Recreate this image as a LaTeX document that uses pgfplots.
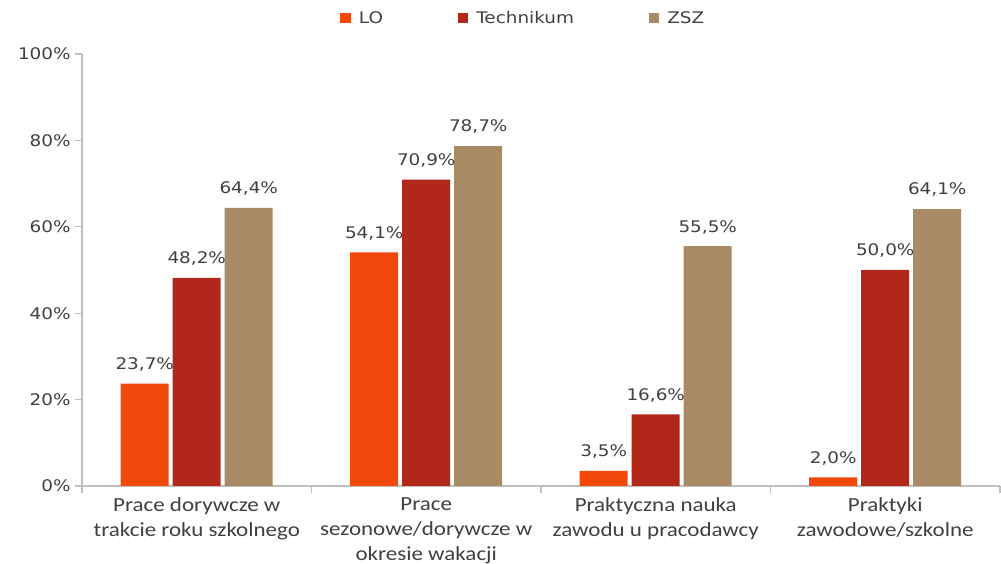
\documentclass[border=0pt]{standalone}
\usepackage{pgfplots}
\pgfplotsset{compat=1.18}
\usepackage{fontspec}
\setmainfont{DejaVu Sans}
\newfontfamily\numfont[FakeStretch=1.15]{DejaVu Sans}
\newfontfamily\catfont[FakeStretch=1.15]{Carlito}
\definecolor{cLO}{HTML}{F2480C}
\definecolor{cTech}{HTML}{B1281B}
\definecolor{cZSZ}{HTML}{A88B64}
\definecolor{axgray}{HTML}{BFBFBF}
\definecolor{txt}{HTML}{404040}
\pgfplotsset{
  sqlegend/.style={legend image code/.code={\fill[##1] (0pt,-4pt) rectangle (8pt,4pt); \path (0pt,0pt) -- (12pt,0pt);}}
}
\begin{document}
\begin{tikzpicture}
\begin{axis}[
  scale only axis,
  width=688.5pt, height=324pt,
  xmin=-0.5, xmax=3.5, ymin=0, ymax=100,
  enlargelimits=false,
  ybar=3pt, bar width=36pt,
  axis x line*=bottom, axis y line*=left,
  axis line style={draw=axgray, line width=1.2pt},
  tick align=outside,
  major tick length=5pt,
  tick style={draw=axgray, line width=1pt},
  ytick={0,20,40,60,80,100},
  yticklabels={0\%,20\%,40\%,60\%,80\%,100\%},
  yticklabel style={font=\numfont\fontsize{12}{14}\selectfont, text=txt},
  xtick={-0.5,0.5,1.5,2.5,3.5},
  xticklabels={},
  extra x ticks={0,1,2,3},
  extra x tick labels={{Prace dorywcze w\\trakcie roku szkolnego},{Prace\\sezonowe/dorywcze w\\okresie wakacji},{Praktyczna nauka\\zawodu u pracodawcy},{Praktyki\\zawodowe/szkolne}},
  extra x tick style={tick style={draw=none}, major tick length=0pt,
     xticklabel style={align=center, font=\catfont\fontsize{15}{19}\selectfont, text=txt, yshift=-5pt}},
  nodes near coords={\pgfmathprintnumber[fixed,fixed zerofill,precision=1,use comma,assume math mode=true]{\pgfplotspointmeta}\%},
  nodes near coords style={anchor=south, inner sep=0pt, yshift=9pt, font=\numfont\fontsize{12}{14}\selectfont, text=txt},
  legend style={draw=none, fill=none, legend columns=3, at={(0.481,1.083)}, anchor=center,
     font=\numfont\fontsize{12}{14}\selectfont, text=txt,
     /tikz/every even column/.append style={column sep=54pt}},
  legend cell align=left,
]
\addplot[fill=cLO, draw=none, sqlegend] coordinates {(0,23.7) (1,54.1) (2,3.5) (3,2.0)};
\addplot[fill=cTech, draw=none, sqlegend] coordinates {(0,48.2) (1,70.9) (2,16.6) (3,50.0)};
\addplot[fill=cZSZ, draw=none, sqlegend] coordinates {(0,64.4) (1,78.7) (2,55.5) (3,64.1)};
\legend{LO,Technikum,ZSZ}
\end{axis}
\pgfresetboundingbox
\path (-61.5pt,-58.5pt) rectangle (689.25pt,364.5pt);
\end{tikzpicture}
\end{document}
